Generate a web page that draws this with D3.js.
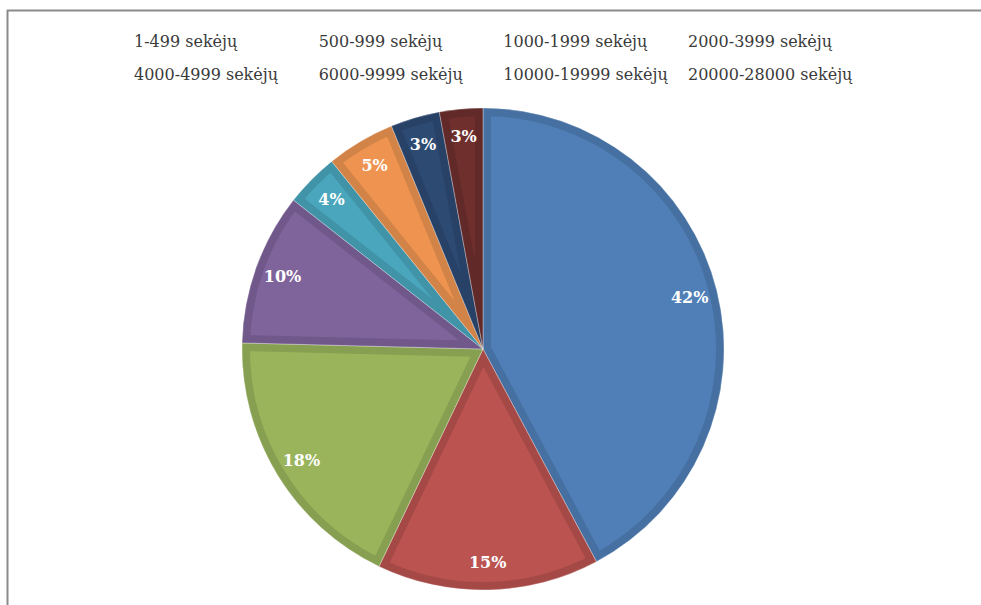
<!DOCTYPE html>
<html>
<head>
<meta charset="utf-8">
<script src="https://cdn.jsdelivr.net/npm/d3@7"></script>
<style>
  body { margin: 0; background: #fff; }
  svg { display: block; }
</style>
</head>
<body>
<div class="chart"></div>
<script>
const categories = ['1-499 sekėjų', '500-999 sekėjų', '1000-1999 sekėjų', '2000-3999 sekėjų',
  '4000-4999 sekėjų', '6000-9999 sekėjų', '10000-19999 sekėjų', '20000-28000 sekėjų'];
const values = [42.2, 14.9, 18.3, 10.2, 3.6, 4.6, 3.3, 2.9];
const labels = ['42%', '15%', '18%', '10%', '4%', '5%', '3%', '3%'];
const colors = ['#4f7fb6', '#bb5350', '#99b45b', '#7f649c', '#4aa6bd', '#ee9450', '#2d4a73', '#6e2f2d'];

const width = 981, height = 605;
const cx = 483, cy = 349, R = 241;

let svg = d3.select('.chart').append('svg').attr('width', width).attr('height', height);

// frame lines (top + left)
svg.append('line').attr('x1', 7).attr('y1', 10.5).attr('x2', width).attr('y2', 10.5)
  .attr('stroke', '#8a8a8a').attr('stroke-width', 2);
svg.append('line').attr('x1', 7.5).attr('y1', 10).attr('x2', 7.5).attr('y2', height)
  .attr('stroke', '#8a8a8a').attr('stroke-width', 2);

// legend (text only)
const legendX = d3.scalePoint().domain(d3.range(4)).range([134, 688]);
svg.append('g').selectAll('text')
  .data(categories)
  .enter()
  .append('text')
  .attr('x', (d, i) => legendX(i % 4))
  .attr('y', (d, i) => 47 + Math.floor(i / 4) * 33)
  .style('font-family', '"DejaVu Serif", serif')
  .style('font-size', '16px')
  .style('fill', '#3a3a3a')
  .text(d => d);

let pie = d3.pie().sort(null).value(d => d)(values);
let arc = d3.arc().innerRadius(0).outerRadius(R);
let labelArc = d3.arc().innerRadius(213).outerRadius(213);

let g = svg.append('g').attr('transform', `translate(${cx},${cy})`);
let defs = svg.append('defs');

defs.selectAll('clipPath')
  .data(pie)
  .enter()
  .append('clipPath')
  .attr('id', (d, i) => 'slice' + i)
  .append('path')
  .attr('d', arc);

let slices = g.selectAll('.slice')
  .data(pie)
  .enter()
  .append('g')
  .attr('class', 'slice');

slices.append('path')
  .attr('d', arc)
  .attr('clip-path', (d, i) => `url(#slice${i})`)
  .style('fill', (d, i) => colors[i])
  .style('stroke', (d, i) => d3.color(colors[i]).darker(0.35))
  .style('stroke-width', 16)
  .style('stroke-linejoin', 'miter');

// thin separators
slices.append('path')
  .attr('d', arc)
  .style('fill', 'none')
  .style('stroke', 'rgba(255,255,255,0.35)')
  .style('stroke-width', 1);

slices.append('text')
  .attr('transform', d => `translate(${labelArc.centroid(d)})`)
  .attr('dy', '.35em')
  .style('text-anchor', 'middle')
  .style('font-family', '"DejaVu Serif", serif')
  .style('font-weight', 'bold')
  .style('font-size', '16px')
  .style('fill', '#fff')
  .text((d, i) => labels[i]);
</script>
</body>
</html>
